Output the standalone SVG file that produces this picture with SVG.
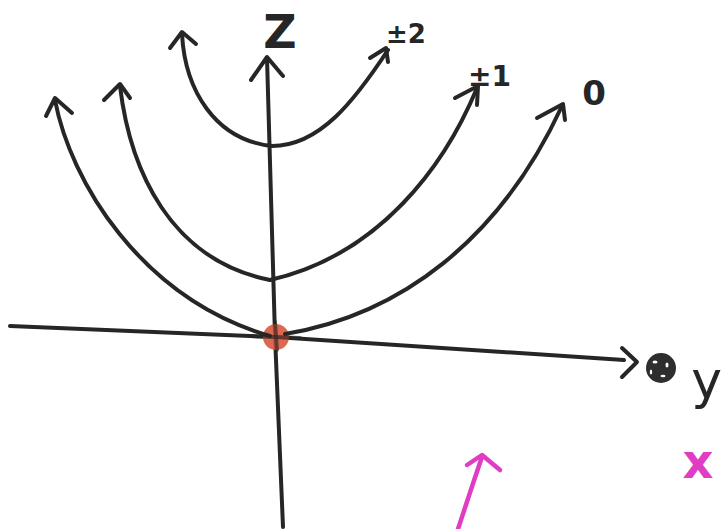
<svg xmlns="http://www.w3.org/2000/svg" width="727" height="529" viewBox="0 0 727 529">
<style>
.ink{fill:none;stroke:#262626;stroke-width:4;stroke-linecap:round;stroke-linejoin:round}
.mag{fill:none;stroke:#e03cc4;stroke-width:4.5;stroke-linecap:round;stroke-linejoin:round}
.lbl{font-family:"DejaVu Sans",sans-serif;font-weight:bold;fill:#262626}
</style>
<rect width="727" height="529" fill="#ffffff"/>
<g id="axes">
  <path class="ink" d="M10,326 L275,337 L624,360"/>
  <path class="ink" d="M622,348 L637,362 L622,377"/>
  <path class="ink" d="M283,527 L275,336 L267,58"/>
  <path class="ink" d="M251,80 L267,57 L283,76"/>
</g>
<g id="origin">
  <circle cx="276" cy="337" r="13" fill="#d9583f" fill-opacity="0.9"/>
  <path class="ink" d="M250,336 L275,337 L300,338" stroke-opacity="0.6"/>
  <path class="ink" d="M277,350 L275,322" stroke-opacity="0.6"/>
</g>
<g id="connectors">
  <g id="mode-0">
    <path class="ink" d="M55,100 C70,180 140,298 270,336"/>
    <path class="ink" d="M285,334 C400,315 500,240 562,106"/>
    <path class="ink" d="M46,116 L55,98 L72,113"/>
    <path class="ink" d="M537,118 L563,104 L565,120"/>
  </g>
  <g id="mode-1">
    <path class="ink" d="M120,86 C130,170 170,260 270,280"/>
    <path class="ink" d="M270,280 C380,255 445,165 477,88"/>
    <path class="ink" d="M104,100 L120,84 L130,98"/>
    <path class="ink" d="M455,98 L478,86 L477,105"/>
  </g>
  <g id="mode-2">
    <path class="ink" d="M182,34 C185,90 215,140 272,146 C320,146 355,100 388,50"/>
    <path class="ink" d="M170,48 L182,32 L196,44"/>
    <path class="ink" d="M370,58 L386,48 L388,62"/>
  </g>
  <g id="x-arrow">
    <path class="mag" d="M458,529 C466,505 474,480 482,457"/>
    <path class="mag" d="M467,465 L482,455 L500,470"/>
  </g>
</g>
<g id="dot">
  <circle cx="661" cy="368" r="15" fill="#2e2e2e"/>
  <ellipse cx="655" cy="362" rx="2.5" ry="1.5" fill="#ffffff"/>
  <ellipse cx="667" cy="365" rx="1.5" ry="2.5" fill="#ffffff"/>
  <ellipse cx="651" cy="372" rx="1.2" ry="2.5" fill="#ffffff"/>
  <ellipse cx="663" cy="376" rx="2.5" ry="1.2" fill="#ffffff"/>
</g>
<g id="labels">
  <text class="lbl" x="280" y="48" font-size="46" text-anchor="middle">Z</text>
  <text class="lbl" x="386" y="43" font-size="26">±2</text>
  <text class="lbl" x="468" y="86" font-size="28">±1</text>
  <text class="lbl" x="594" y="105" font-size="34" text-anchor="middle">0</text>
  <text x="722" y="398" font-size="52" text-anchor="end" font-family="DejaVu Sans,sans-serif" fill="#262626">y</text>
  <text x="698" y="478" font-size="48" font-weight="bold" text-anchor="middle" font-family="DejaVu Sans,sans-serif" fill="#e03cc4">x</text>
</g>
</svg>
